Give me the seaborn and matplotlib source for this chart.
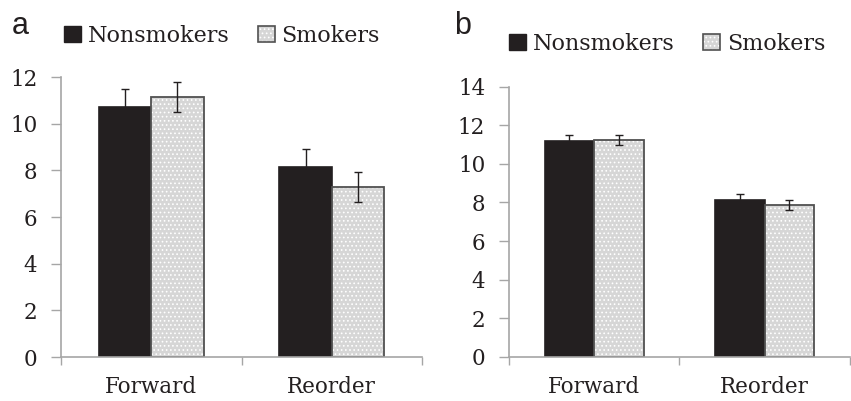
import matplotlib
matplotlib.use("Agg")
import matplotlib.pyplot as plt
import seaborn as sns
import pandas as pd
from matplotlib.patches import Rectangle, Patch
from matplotlib.legend_handler import HandlerTuple

categories = ["Forward", "Reorder"]
groups = ["Nonsmokers", "Smokers"]

a_nonsmokers = [10.71, 8.13]
a_smokers = [11.16, 7.30]
a_nonsmokers_err = [0.78, 0.78]
a_smokers_err = [0.64, 0.64]

b_nonsmokers = [11.20, 8.12]
b_smokers = [11.25, 7.88]
b_nonsmokers_err = [0.29, 0.30]
b_smokers_err = [0.26, 0.25]

a_yticks = [0, 2, 4, 6, 8, 10, 12]
b_yticks = [0, 2, 4, 6, 8, 10, 12, 14]

sns.set_theme(style="white")
plt.rcParams["font.family"] = ["DejaVu Serif"]
plt.rcParams["hatch.linewidth"] = 0.7

fig = plt.figure(figsize=(8.51, 4.01), dpi=100)
ax_a = fig.add_axes([0.0717, 0.1097, 0.4242, 0.698])
ax_b = fig.add_axes([0.598, 0.1105, 0.4007, 0.673])

SPINE = "#a6a6a6"
DARK = "#231f20"
LIGHT = "#d6d6d6"
EDGE = "#505050"


def panel(ax, ns, sm, ns_err, sm_err, yticks, legend_xy):
    df = pd.DataFrame({
        "cat": categories * 2,
        "group": [groups[0]] * 2 + [groups[1]] * 2,
        "val": list(ns) + list(sm),
    })
    sns.barplot(data=df, x="cat", y="val", hue="group", order=categories,
                hue_order=groups, palette=[DARK, LIGHT], width=0.58,
                errorbar=None, ax=ax, saturation=1, linewidth=1.2,
                legend=False)
    bars = list(ax.patches)[:4]
    for i, p in enumerate(bars):
        if i < 2:
            p.set_edgecolor(DARK)
        else:
            # white dotted texture (hatch takes edge colour), then a dark outline on top
            p.set_edgecolor("white")
            p.set_linewidth(0)
            p.set_hatch("....")
            ax.add_patch(Rectangle(p.get_xy(), p.get_width(), p.get_height(),
                                   fill=False, edgecolor=EDGE, linewidth=1.3,
                                   zorder=p.get_zorder() + 0.1))
    errs = list(ns_err) + list(sm_err)
    vals = list(ns) + list(sm)
    xs = [p.get_x() + p.get_width() / 2 for p in bars]
    ax.errorbar(xs, vals, yerr=errs, fmt="none", ecolor=DARK,
                elinewidth=1.0, capsize=3, capthick=1.0, zorder=5)
    ax.set_xlim(-0.5, 1.5)
    ax.set_ylim(0, yticks[-1])
    ax.set_yticks(yticks)
    ax.set_yticklabels([str(t) for t in yticks])
    ax.set_xticks([-0.5, 0.5, 1.5], minor=True)
    ax.tick_params(axis="x", which="minor", length=6, width=1, color=SPINE,
                   direction="out", bottom=True)
    ax.tick_params(axis="x", which="major", length=0, pad=14, labelsize=15.5,
                   colors=DARK)
    ax.tick_params(axis="y", which="major", length=7, width=1, color=SPINE,
                   direction="out", left=True, pad=10, labelsize=15.5,
                   labelcolor=DARK)
    ax.set_xlabel("")
    ax.set_ylabel("")
    for s in ["top", "right"]:
        ax.spines[s].set_visible(False)
    for s in ["left", "bottom"]:
        ax.spines[s].set_color(SPINE)
        ax.spines[s].set_linewidth(1.2)
    h_ns = Patch(facecolor=DARK, edgecolor=DARK, linewidth=1)
    h_sm_fill = Patch(facecolor=LIGHT, edgecolor="white", linewidth=0,
                      hatch="....")
    h_sm_edge = Patch(facecolor="none", edgecolor=EDGE, linewidth=1.2)
    leg = ax.legend([h_ns, (h_sm_fill, h_sm_edge)], groups, loc="center",
                    bbox_to_anchor=legend_xy, bbox_transform=fig.transFigure,
                    ncol=2, frameon=False, handlelength=0.75,
                    handleheight=0.75, handletextpad=0.3, columnspacing=1.3,
                    fontsize=16,
                    handler_map={tuple: HandlerTuple(ndivide=1, pad=0)})
    for t in leg.get_texts():
        t.set_color(DARK)


panel(ax_a, a_nonsmokers, a_smokers, a_nonsmokers_err, a_smokers_err,
      a_yticks, (0.261, 0.910))
panel(ax_b, b_nonsmokers, b_smokers, b_nonsmokers_err, b_smokers_err,
      b_yticks, (0.784, 0.890))

fig.text(0.014, 0.935, "a", fontsize=22, family=["Liberation Sans"],
         color=DARK, va="center", ha="left")
fig.text(0.534, 0.935, "b", fontsize=22, family=["Liberation Sans"],
         color=DARK, va="center", ha="left")

fig.savefig("out.png", dpi=100)
